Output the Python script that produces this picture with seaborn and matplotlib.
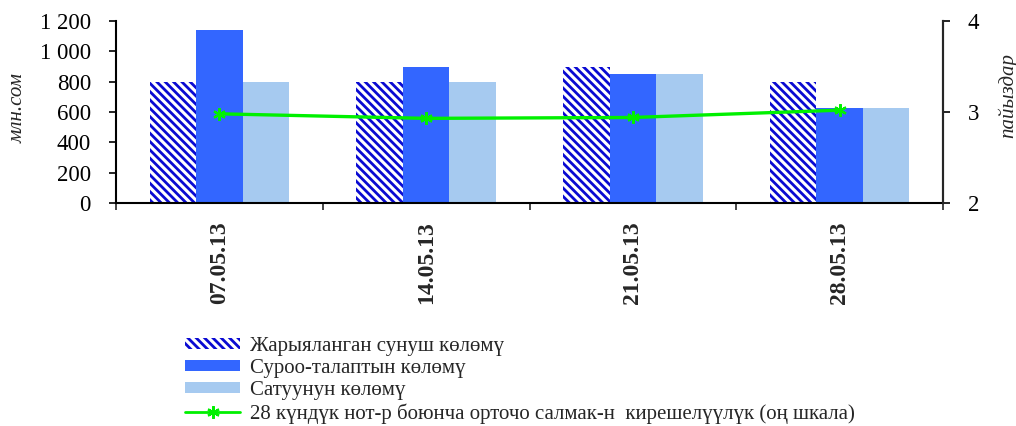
import numpy as np
import pandas as pd
import matplotlib
matplotlib.use("Agg")
import matplotlib.pyplot as plt
from matplotlib.patches import Patch
from matplotlib.lines import Line2D
from matplotlib.ticker import FixedLocator, FuncFormatter
import seaborn as sns

# ---- data ----
dates = ["07.05.13", "14.05.13", "21.05.13", "28.05.13"]
offer = [800, 800, 900, 800]
demand = [1140, 900, 850, 625]
sales = [800, 800, 850, 625]
yield_pct = [2.98, 2.93, 2.94, 3.02]
series_names = [
    "Жарыяланган сунуш көлөмү",
    "Суроо-талаптын көлөмү",
    "Сатуунун көлөмү",
]
line_name = "28 күндүк нот-р боюнча орточо салмак-н  кирешелүүлүк (оң шкала)"
left_label = "млн.сом"
right_label = "пайыздар"

sns.set_style("ticks")
plt.rcParams["font.family"] = ["Liberation Serif", "DejaVu Serif"]
plt.rcParams["hatch.linewidth"] = 2.0

df = pd.DataFrame({
    "date": dates * 3,
    "series": [series_names[0]] * 4 + [series_names[1]] * 4 + [series_names[2]] * 4,
    "value": offer + demand + sales,
})

colors = ["#FFFFFF", "#3366FF", "#A6CAF0"]
hatch_color = "#0A0AD2"
green = "#00F000"

fig = plt.figure(figsize=(10.16, 4.26), dpi=100)
ax = fig.add_axes([116 / 1016, 1 - 203 / 426, (943 - 116) / 1016, (203 - 21) / 426])

sns.barplot(data=df, x="date", y="value", hue="series", hue_order=series_names,
            palette=colors, width=0.675, saturation=1, ax=ax, legend=False,
            linewidth=0)
for p in ax.containers[0]:
    p.set_hatch("\\\\\\\\")
    p.set_edgecolor(hatch_color)
    p.set_linewidth(0)

ax.set_xlim(-0.5, len(dates) - 0.5)
ax.set_ylim(0, 1200)
ax.set_yticks(np.arange(0, 1201, 200))
ax.yaxis.set_major_formatter(FuncFormatter(lambda v, _: f"{int(v):,}".replace(",", " ")))
ax.tick_params(axis="y", labelsize=16.5, length=5, width=1.2, pad=13, colors="black")

# x ticks: marks at boundaries, labels at centres
ax.xaxis.set_major_locator(FixedLocator(np.arange(-0.5, len(dates), 1.0)))
ax.xaxis.set_minor_locator(FixedLocator(np.arange(len(dates))))
ax.set_xticklabels([], minor=False)
ax.set_xticklabels(dates, minor=True, rotation=90, fontweight="bold", fontsize=17)
ax.tick_params(axis="x", which="major", length=5, width=1.2)
ax.tick_params(axis="x", which="minor", length=0, pad=13)
ax.set_xlabel("")
ax.set_ylabel(left_label, fontsize=15, style="italic")
ax.yaxis.set_label_coords(-0.107, 0.52)

for s in ["left", "bottom", "right"]:
    ax.spines[s].set_linewidth(1.5)
    ax.spines[s].set_color("black")
ax.spines["top"].set_visible(False)

ax2 = ax.twinx()
sns.lineplot(x=np.arange(len(dates)), y=yield_pct, ax=ax2, color=green,
             linewidth=2.4, marker=(6, 2, 0), markersize=9,
             markeredgecolor=green, markeredgewidth=1.6)
ax2.set_ylim(2, 4)
ax2.set_yticks([2, 3, 4])
ax2.tick_params(axis="y", labelsize=16.5, length=5, width=1.2, pad=13, colors="black")
ax2.set_ylabel(right_label, fontsize=15, style="italic")
ax2.yaxis.set_label_coords(1.066, 0.59)
ax2.spines["top"].set_visible(False)
ax2.spines["right"].set_linewidth(1.5)
ax2.spines["left"].set_visible(False)
ax2.spines["bottom"].set_visible(False)
ax2.grid(False)
ax.grid(False)

handles = [
    Patch(facecolor="white", edgecolor=hatch_color, hatch="\\\\\\\\", linewidth=0),
    Patch(facecolor=colors[1], linewidth=0),
    Patch(facecolor=colors[2], linewidth=0),
    Line2D([], [], color=green, linewidth=2.0, marker=(6, 2, 0), markersize=9,
           markeredgecolor=green, markeredgewidth=1.6),
]
fig.legend(handles, series_names + [line_name], loc="upper left",
           bbox_to_anchor=(185 / 1016, 1 - 337 / 426), frameon=False,
           fontsize=15, borderpad=0, handlelength=2.64, handleheight=0.45,
           handletextpad=0.5, labelspacing=0.15, borderaxespad=0)

fig.savefig("out.png", dpi=100)
